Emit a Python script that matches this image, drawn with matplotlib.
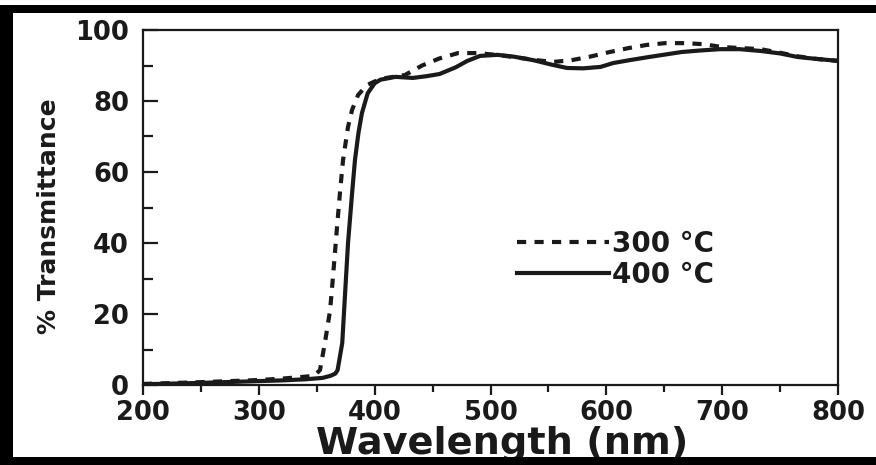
import matplotlib
matplotlib.use("Agg")
import matplotlib.pyplot as plt
from matplotlib.patches import Rectangle
from matplotlib.ticker import MultipleLocator

# ---- data ----
wl_300 = [200, 250, 300, 320, 335, 345, 349, 352.8, 357, 361.5, 364, 367.5, 370,
          372.7, 377, 380.5, 385.7, 393.4, 400, 410, 426, 441, 456, 472, 489, 505,
          520, 537, 554, 570, 586, 603, 619, 635, 651, 668, 684, 700, 717, 733,
          750, 765, 780, 800]
T_300 = [0.3, 0.8, 1.4, 1.8, 2.2, 2.5, 3.0, 4.2, 11.8, 21.0, 30.4, 44.5, 54.0,
         63.4, 72.7, 77.5, 81.7, 84.5, 85.5, 86.5, 87.3, 90.0, 92.0, 93.5, 93.5, 93.0,
         92.4, 91.6, 91.0, 91.5, 92.5, 93.8, 94.9, 95.8, 96.3, 96.3, 96.0, 95.2, 94.9,
         94.6, 93.6, 92.6, 91.9, 91.3]

wl_400 = [200, 250, 300, 320, 340, 355, 362, 366, 368, 370, 372, 374.5, 377, 380.5,
          383, 386, 389, 394, 400, 405, 418, 433, 445, 456, 470, 480, 491, 506, 520,
          537, 552, 566, 580, 595, 606, 620, 635, 649, 665, 680, 698, 715, 733, 750,
          765, 780, 800]
T_400 = [0.2, 0.6, 1.1, 1.3, 1.6, 2.0, 2.6, 3.2, 4.2, 8.0, 11.8, 26.0, 40.0, 54.0,
         63.4, 71.0, 76.6, 82.2, 85.0, 86.0, 86.8, 86.5, 87.0, 87.6, 89.5, 91.3, 92.7,
         93.0, 92.5, 91.5, 90.3, 89.3, 89.2, 89.6, 90.7, 91.5, 92.3, 93.0, 93.8, 94.2,
         94.6, 94.6, 94.1, 93.4, 92.4, 91.9, 91.3]

series_labels = ["300 \u00b0C", "400 \u00b0C"]
x_ticks = [200, 300, 400, 500, 600, 700, 800]
y_ticks = [0, 20, 40, 60, 80, 100]
x_label = "Wavelength (nm)"
y_label = "% Transmittance"

# ---- figure ----
W, H = 876, 465
fig = plt.figure(figsize=(W / 100, H / 100), dpi=100)
fig.patch.set_facecolor("white")

ink = "#1a1a1a"
plt.rcParams["font.family"] = ["DejaVu Sans"]
plt.rcParams["font.weight"] = "bold"

ax = fig.add_axes([143 / W, 1 - 385 / H, (838 - 143) / W, (385 - 30) / H])

ax.plot(wl_300, T_300, color=ink, lw=3.0, linestyle=(0, (2.2, 2.0)),
        solid_capstyle="butt", dash_capstyle="butt", label=series_labels[0])
ax.plot(wl_400, T_400, color=ink, lw=3.0, linestyle="-", label=series_labels[1])

ax.set_xlim(200, 800)
ax.set_ylim(0, 100)
ax.set_xticks(x_ticks)
ax.set_yticks(y_ticks)
ax.xaxis.set_minor_locator(MultipleLocator(50))
ax.yaxis.set_minor_locator(MultipleLocator(10))

for s in ax.spines.values():
    s.set_linewidth(1.6)
    s.set_color(ink)

ax.tick_params(axis="x", which="major", direction="out", length=7, width=1.6,
               pad=4, labelsize=18.5, colors=ink)
ax.tick_params(axis="x", which="minor", direction="out", length=5, width=1.6, colors=ink)
ax.tick_params(axis="y", which="major", direction="in", length=11, width=1.6,
               pad=10, labelsize=18.5, colors=ink)
ax.tick_params(axis="y", which="minor", direction="in", length=7, width=1.6, colors=ink)
for lab in ax.get_xticklabels() + ax.get_yticklabels():
    lab.set_fontweight("bold")

ax.set_xlabel(x_label, fontsize=27.5, fontweight="bold", color=ink)
ax.set_ylabel(y_label, fontsize=18, fontweight="bold", color=ink)
ax.xaxis.set_label_coords(0.517, -0.115)
ax.yaxis.set_label_coords(-0.118, 0.475)

leg = ax.legend(loc="center left", bbox_to_anchor=((517 - 143) / 695, (385 - 259.5) / 355),
                frameon=False, borderpad=0, borderaxespad=0, handlelength=3.3,
                handletextpad=0.12, labelspacing=0.1,
                prop={"size": 20, "weight": "bold"})
for t in leg.get_texts():
    t.set_color(ink)

# ---- black frame around the picture ----
fig.patches.append(Rectangle((0, 1 - 13 / H), 1, 8 / H, transform=fig.transFigure,
                             facecolor="black", edgecolor="none", zorder=10))
fig.patches.append(Rectangle((0, 0), 13 / W, 1 - 5 / H, transform=fig.transFigure,
                             facecolor="black", edgecolor="none", zorder=10))
fig.patches.append(Rectangle((0, 0), 1, 8 / H, transform=fig.transFigure,
                             facecolor="black", edgecolor="none", zorder=10))

fig.savefig("out.png", dpi=100)
